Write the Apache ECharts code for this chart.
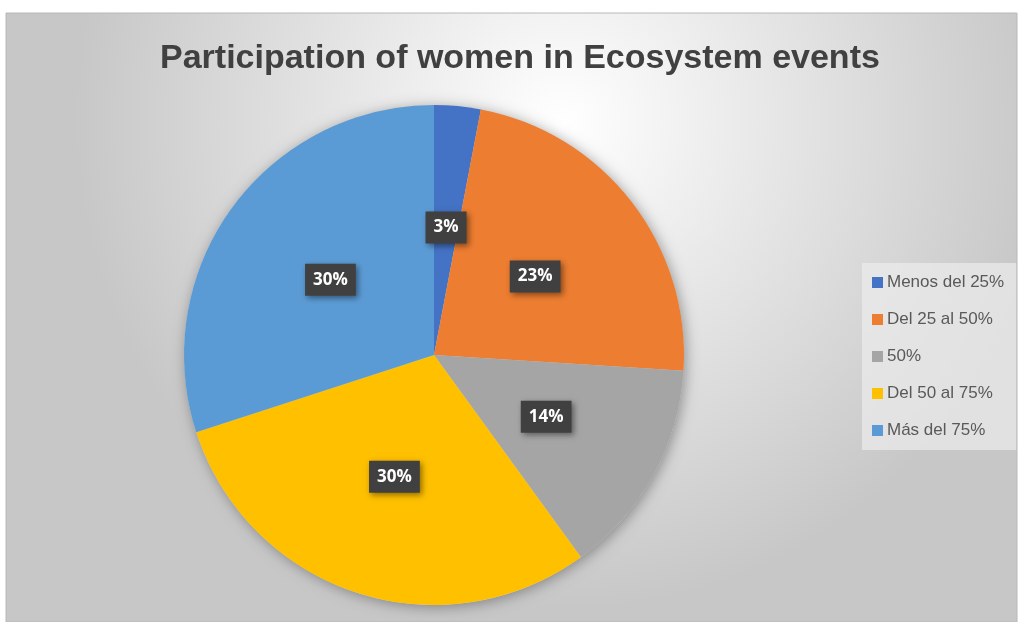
<!DOCTYPE html>
<html>
<head>
<meta charset="utf-8">
<style>
  html, body { margin: 0; padding: 0; background: #ffffff; }
  #chart { width: 1018px; height: 622px; }
</style>
<script src="https://cdn.jsdelivr.net/npm/echarts@6/dist/echarts.min.js"></script>
</head>
<body>
<div id="chart"></div>
<script>
// Share of women among participants in ecosystem events
const titleText = 'Participation of women in Ecosystem events';
const categories = ['Menos del 25%', 'Del 25 al 50%', '50%', 'Del 50 al 75%', 'Más del 75%'];
const shares = [3, 23, 14, 30, 30];
const sliceColors = ['#4472C4', '#ED7D31', '#A5A5A5', '#FFC000', '#5B9BD5'];

const chart = echarts.init(document.getElementById('chart'), null, { renderer: 'canvas' });

const center = [434, 355];
const radius = 250;

chart.setOption({
  animation: false,
  color: sliceColors,
  graphic: [
    {
      type: 'rect',
      z: -10,
      silent: true,
      shape: { x: 6, y: 13, width: 1011, height: 609 },
      style: {
        fill: {
          type: 'radial', x: 0.55, y: 0.18, r: 0.8,
          colorStops: [
            { offset: 0, color: '#ffffff' },
            { offset: 0.5, color: '#e3e3e3' },
            { offset: 1, color: '#c7c7c7' }
          ]
        },
        stroke: '#b8b8b8',
        lineWidth: 1
      }
    },
    {
      type: 'text',
      left: 520 - 360,
      top: 42,
      silent: true,
      style: {
        text: titleText,
        fill: '#404040',
        font: 'bold 34px "Liberation Sans", Arial, sans-serif'
      }
    }
  ],
  legend: {
    orient: 'vertical',
    left: 862,
    top: 263,
    padding: [11, 12, 11, 10],
    backgroundColor: 'rgba(236,236,236,0.7)',
    itemWidth: 11,
    itemHeight: 11,
    itemGap: 20,
    icon: 'rect',
    selectedMode: false,
    data: categories,
    textStyle: {
      color: '#595959',
      fontSize: 17,
      fontFamily: '"Liberation Sans", Arial, sans-serif',
      padding: [0, 0, 0, -1]
    }
  },
  series: [
    {
      // soft drop shadow under the whole pie
      type: 'pie',
      silent: true,
      center: center,
      radius: radius,
      z: 1,
      label: { show: false },
      labelLine: { show: false },
      itemStyle: {
        color: '#d0d0d0',
        shadowBlur: 14,
        shadowColor: 'rgba(0,0,0,0.35)',
        shadowOffsetX: 2,
        shadowOffsetY: 2
      },
      data: [{ value: 1, name: '' }],
      legendHoverLink: false
    },
    {
      type: 'pie',
      center: center,
      radius: radius,
      z: 2,
      startAngle: 90,
      clockwise: true,
      itemStyle: { borderWidth: 0 },
      label: {
        show: true,
        position: 'inside',
        formatter: function (p) { return p.value + '%'; },
        color: '#ffffff',
        fontWeight: 'bold',
        fontSize: 17,
        fontFamily: '"Open Sans", "DejaVu Sans", sans-serif',
        backgroundColor: '#404040',
        padding: [8, 8, 7, 8],
        shadowBlur: 6,
        shadowColor: 'rgba(0,0,0,0.45)',
        shadowOffsetX: 2,
        shadowOffsetY: 2
      },
      emphasis: { disabled: true },
      data: categories.map(function (name, i) {
        return { name: name, value: shares[i] };
      })
    }
  ]
});
</script>
</body>
</html>
